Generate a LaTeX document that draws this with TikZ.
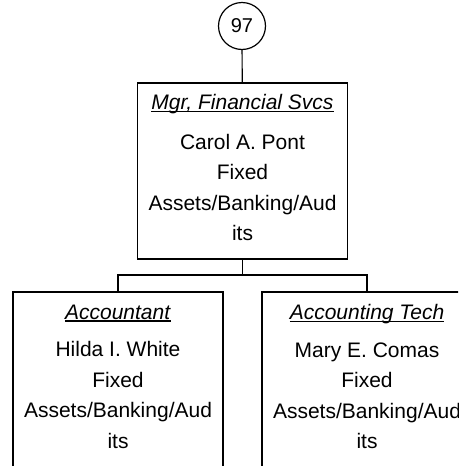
\documentclass[tikz,border=0pt]{standalone}
\usepackage{fontspec}
\setmainfont{Liberation Sans}
\newlength\ttlwd
\newcommand{\postitle}[1]{\settowidth{\ttlwd}{\textit{#1}}\textit{#1}\llap{\rule[-2.5pt]{\ttlwd}{1.3pt}}}
\tikzset{
  posbox/.style={draw, line width=1.2pt, minimum width=210pt, minimum height=176pt, inner sep=0pt, text depth=7pt, align=center, font=\fontsize{21}{30.5}\selectfont},
  link/.style={line width=1.2pt}
}

\begin{document}
\begin{tikzpicture}[x=1pt, y=-1pt]
\useasboundingbox (0,0) rectangle (458,466);
\clip (0,0) rectangle (458,466);

% Define nodes for the chart
\node[draw, circle, line width=1.2pt, minimum size=47pt, inner sep=0pt, font=\fontsize{20}{24}\selectfont] (n97) at (242,26) {97};
\node[posbox] (mgr) at (242.5,171) {\postitle{Mgr, Financial Svcs}\\[9pt] Carol A. Pont\\ Fixed\\ Assets/Banking/Aud\\ its};
\node[posbox] (acct) at (118,380) {\postitle{Accountant}\\[7pt] Hilda I. White\\ Fixed\\ Assets/Banking/Aud\\ its};
\node[posbox] (tech) at (367,380) {\postitle{Accounting Tech}\\[7pt] Mary E. Comas\\ Fixed\\ Assets/Banking/Aud\\ its};

% Connectors
\coordinate (bus) at (242.5,275);
\draw[link] (n97) -- (mgr);
\draw[link] (mgr.south) -- (bus);
\draw[link] (acct.north) |- (bus) -| (tech.north);
\end{tikzpicture}
\end{document}
